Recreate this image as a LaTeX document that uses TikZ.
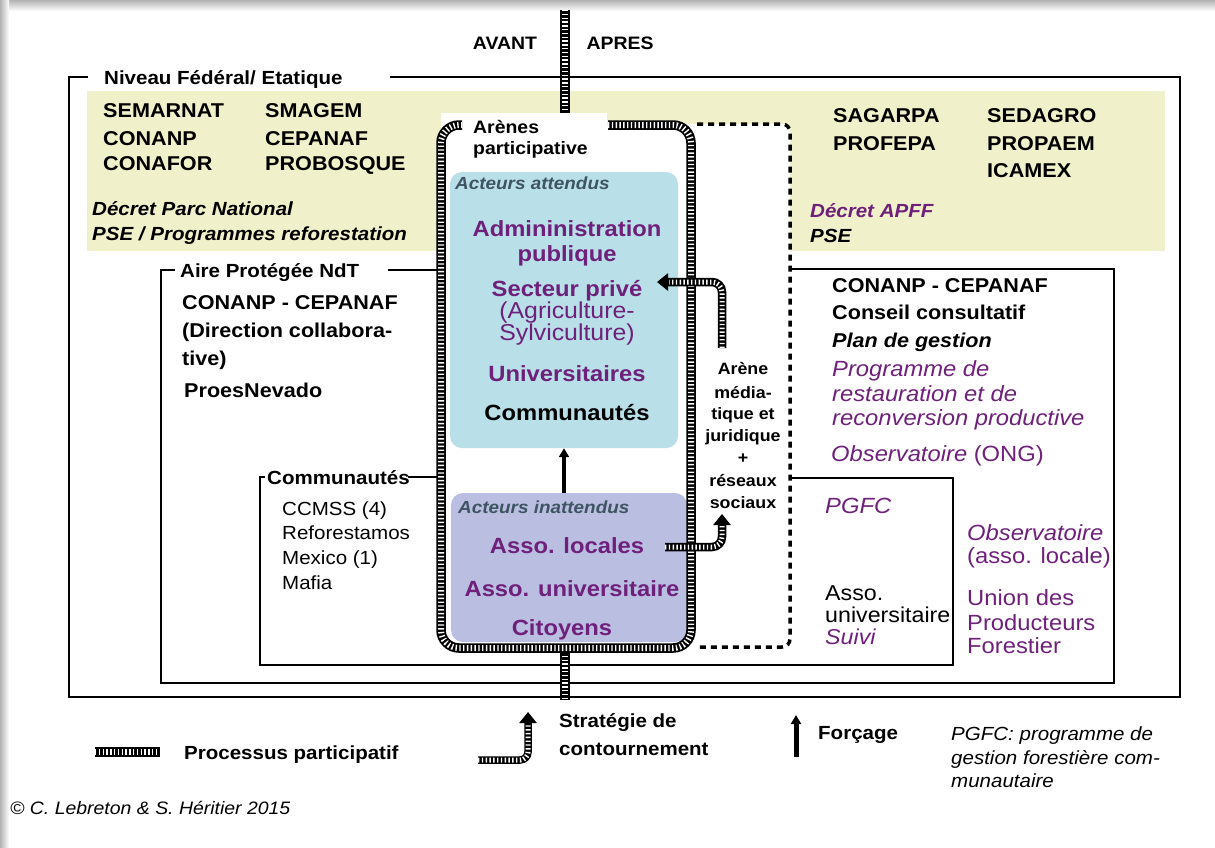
\documentclass[tikz,border=0pt]{standalone}
\usepackage{fontspec}
\setmainfont{Liberation Sans}[FakeStretch=1.08]
\usetikzlibrary{arrows.meta}
\definecolor{ylw}{RGB}{240,240,202}
\definecolor{bluebx}{RGB}{185,223,232}
\definecolor{lavbx}{RGB}{186,191,226}
\definecolor{purp}{RGB}{110,32,122}
\definecolor{slate}{RGB}{62,84,98}
\newcommand{\fz}[1]{\fontsize{#1}{#1}\selectfont}
\begin{document}
\begin{tikzpicture}[x=1pt,y=-1pt,
  tx/.style={inner sep=0pt,anchor=base west},
  txc/.style={inner sep=0pt,anchor=base},
  frame/.style={draw=black,line width=2pt},
  railline/.style={draw=black,line width=9.5pt,postaction={draw=white,line width=6pt,dash pattern=on 1.4pt off 2.4pt}},
  railarrow/.style={draw=black,line width=8.5pt,rounded corners=10pt,-{Triangle[width=17pt,length=11pt]},
     postaction={draw=white,line width=5pt,-,shorten >=12pt,dash pattern=on 1.4pt off 2.4pt}},
  dashline/.style={draw=black,line width=3.5pt,dash pattern=on 6pt off 5pt},
  force/.style={draw=black,line width=4pt,-{Triangle[width=10pt,length=9pt]}},
  B/.style={font=\bfseries\fz{#1}},
  BI/.style={font=\bfseries\itshape\fz{#1}},
  R/.style={font=\fz{#1}},
  I/.style={font=\itshape\fz{#1}}]
\useasboundingbox (0,0) rectangle (1215,847);
% shadow
\shade[top color=gray!60,bottom color=white] (0,0) rectangle (1215,11);
\shade[left color=gray!60,right color=white] (0,0) rectangle (9,847);
% yellow band
\fill[ylw] (87,91) rectangle (1165,251);
% white areas of arenas
\fill[white,rounded corners=8pt] (680,124) rectangle (790,647);
\fill[white,rounded corners=18pt] (441,125) rectangle (691,648);
\fill[white] (441,113) rectangle (607,130);
% frames
\draw[frame] (88,77) -- (69,77) -- (69,697) -- (1180,697) -- (1180,77) -- (390,77);
\draw[frame] (175,270) -- (161,270) -- (161,683) -- (1114,683) -- (1114,269) -- (792,269);
\draw[frame] (388,270) -- (441,270);
\draw[frame] (265,477) -- (260,477) -- (260,665) -- (953,665) -- (953,478) -- (792,478);
\draw[frame] (408,477) -- (441,477);
% actor boxes
\node[fill=bluebx,rounded corners=12pt,minimum width=228pt,minimum height=276pt,inner sep=0pt] (att) at (564,310) {};
\node[fill=lavbx,rounded corners=12pt,minimum width=236pt,minimum height=149pt,inner sep=0pt] (inat) at (569,567.5) {};
% participative stripes
\draw[railline] (565,10) -- (565,113);
\draw[railline] (565,652) -- (565,700);
\draw[railline,rounded corners=18pt] (608,125) -- (691,125) -- (691,648) -- (441,648) -- (441,125) -- (462,125);
% media arena
\draw[dashline,rounded corners=8pt] (697,124) -- (790,124) -- (790,647) -- (697,647);
% arrows
\coordinate (c1) at (722,348);
\coordinate (c2) at (657,282);
\coordinate (c3) at (665,547);
\coordinate (c4) at (722,514);
\draw[railarrow] (c1) -- (c1 |- c2) -- (c2);
\draw[railarrow] (c3) -- (c3 -| c4) -- (c4);
\draw[force] (att.south |- inat.north) -- (att.south);
% header
\node[txc,B=18] (avant) at (505,49) {AVANT};
\node[txc,B=18] (apres) at (620,49) {APRES};
\node[tx,B=19] (niv) at (104,84) {Niveau Fédéral/ Etatique};
% yellow left
\node[tx,B=20] (y1) at (103,117) {SEMARNAT};
\node[tx,B=20] (y2) at (103,145) {CONANP};
\node[tx,B=20] (y3) at (103,170) {CONAFOR};
\node[tx,B=20] (y4) at (265,117) {SMAGEM};
\node[tx,B=20] (y5) at (265,145) {CEPANAF};
\node[tx,B=20] (y6) at (265,170) {PROBOSQUE};
\node[tx,BI=19] (y7) at (92,215) {Décret Parc National};
\node[tx,BI=19] (y8) at (92,240) {PSE / Programmes reforestation};
% yellow right
\node[tx,B=20] (z1) at (833,122) {SAGARPA};
\node[tx,B=20] (z2) at (833,150) {PROFEPA};
\node[tx,B=20] (z3) at (987,122) {SEDAGRO};
\node[tx,B=20] (z4) at (987,150) {PROPAEM};
\node[tx,B=20] (z5) at (987,177) {ICAMEX};
\node[tx,BI=19,text=purp] (z6) at (810,217) {Décret APFF};
\node[tx,BI=19] (z7) at (810,242) {PSE};
% aire protegee left
\node[tx,B=19] (ap) at (180,277) {Aire Protégée NdT};
\node[tx,B=20] (l1) at (182,309) {CONANP - CEPANAF};
\node[tx,B=20] (l2) at (182,337) {(Direction collabora-};
\node[tx,B=20] (l3) at (182,365) {tive)};
\node[tx,B=20] (l4) at (184,397) {ProesNevado};
\node[tx,B=19] (com) at (267,484) {Communautés};
\node[tx,R=19] (m1) at (282,515) {CCMSS (4)};
\node[tx,R=19] (m2) at (282,539) {Reforestamos};
\node[tx,R=19] (m3) at (282,564) {Mexico (1)};
\node[tx,R=19] (m4) at (282,589) {Mafia};
% arenes participative
\node[tx,B=18] (ar1) at (473,133) {Arènes};
\node[tx,B=18] (ar2) at (473,154) {participative};
\node[tx,BI=17.5,text=slate] (aa) at (455,189) {Acteurs attendus};
\node[txc,B=22,text=purp] (a1) at (567,236) {Admininistration};
\node[txc,B=22,text=purp] (a2) at (567,261) {publique};
\node[txc,B=22,text=purp] (a3) at (567,296) {Secteur privé};
\node[txc,R=23,text=purp] (a4) at (567,318) {(Agriculture-};
\node[txc,R=23,text=purp] (a5) at (567,340) {Sylviculture)};
\node[txc,B=22,text=purp] (a6) at (567,381) {Universitaires};
\node[txc,B=22] (a7) at (567,420) {Communautés};
\node[tx,BI=17.5,text=slate] (ai) at (458,513) {Acteurs inattendus};
\node[txc,B=22,text=purp] (b1) at (567,553) {Asso. locales};
\node[txc,B=22,text=purp] (b2) at (572,596) {Asso. universitaire};
\node[txc,B=22,text=purp] (b3) at (562,635) {Citoyens};
% media arena text
\node[txc,B=16.5] (e1) at (743,374) {Arène};
\node[txc,B=16.5] (e2) at (743,398) {média-};
\node[txc,B=16.5] (e3) at (743,419) {tique et};
\node[txc,B=16.5] (e4) at (743,441) {juridique};
\node[txc,B=16.5] (e5) at (743,463) {+};
\node[txc,B=16.5] (e6) at (743,486) {réseaux};
\node[txc,B=16.5] (e7) at (743,508) {sociaux};
% right box
\node[tx,B=20] (r1) at (832,292) {CONANP - CEPANAF};
\node[tx,B=20] (r2) at (832,319) {Conseil consultatif};
\node[tx,BI=20] (r3) at (832,347) {Plan de gestion};
\node[tx,I=22,text=purp] (r4) at (832,376) {Programme de};
\node[tx,I=22,text=purp] (r5) at (832,401) {restauration et de};
\node[tx,I=22,text=purp] (r6) at (832,425) {reconversion productive};
\node[tx,R=22,text=purp] (r7) at (831,461) {\itshape Observatoire\upshape{} (ONG)};
\node[tx,I=22,text=purp] (s1) at (825,513) {PGFC};
\node[tx,R=21.5] (s2) at (825,600) {Asso.};
\node[tx,R=21.5] (s3) at (825,622) {universitaire};
\node[tx,I=21.5,text=purp] (s4) at (825,644) {Suivi};
\node[tx,I=22,text=purp] (t1) at (967,540) {Observatoire};
\node[tx,R=22,text=purp] (t2) at (967,563) {(asso. locale)};
\node[tx,R=22,text=purp] (t3) at (967,605) {Union des};
\node[tx,R=22,text=purp] (t4) at (967,630) {Producteurs};
\node[tx,R=22,text=purp] (t5) at (967,653) {Forestier};
% legend
\coordinate (p1) at (95,752);
\coordinate (p2) at (160,752);
\draw[railline] (p1) -- (p2);
\node[tx,B=19] (lg1) at (184,759) {Processus participatif};
\coordinate (q1) at (478,760);
\coordinate (q2) at (528,712);
\draw[railarrow,line width=7.5pt,rounded corners=8pt] (q1) -- (q1 -| q2) -- (q2);
\node[tx,B=19] (lg2) at (559,727) {Stratégie de};
\node[tx,B=19] (lg3) at (559,755) {contournement};
\coordinate (f1) at (796,757);
\coordinate (f2) at (796,715);
\draw[force,line width=5pt] (f1) -- (f2);
\node[tx,B=19] (lg4) at (818,739) {Forçage};
\node[tx,I=19] (lg5) at (951,740) {PGFC: programme de};
\node[tx,I=19] (lg6) at (951,764) {gestion forestière com-};
\node[tx,I=19] (lg7) at (951,787) {munautaire};
\node[tx,I=18] (cp) at (10,814) {© C. Lebreton \& S. Héritier 2015};
\end{tikzpicture}
\end{document}
